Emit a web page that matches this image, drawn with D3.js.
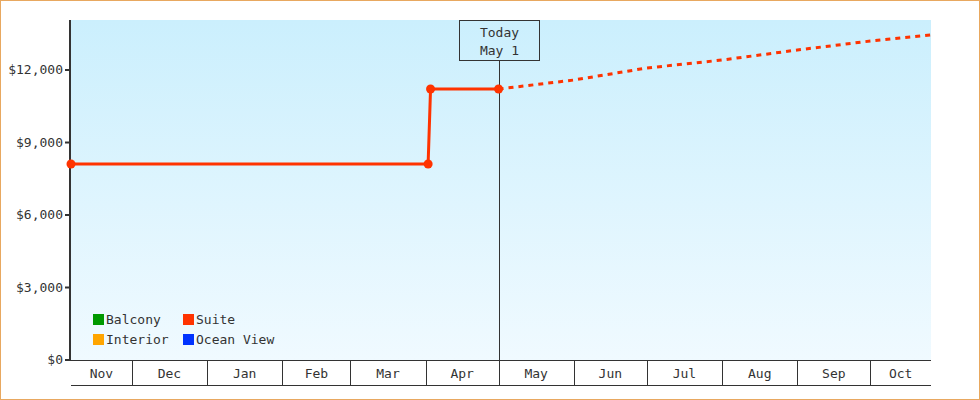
<!DOCTYPE html>
<html>
<head>
<meta charset="utf-8">
<script src="https://cdn.jsdelivr.net/npm/d3@7"></script>
<style>
  body { margin: 0; background: #fff; }
  svg text { font-family: "DejaVu Sans Mono", monospace; font-size: 13px; fill: #333; }
</style>
</head>
<body>
<div id="chart"></div>
<script>
var parseDate = d3.timeParse("%Y-%m-%d");

// Suite price history (solid) and projection (dashed)
var historyDates = ["2022-11-06", "2023-04-02", "2023-04-03", "2023-05-01"];
var historyValues = [8110, 8110, 11214, 11214];
var forecastDates = ["2023-05-01", "2023-06-01", "2023-07-01", "2023-08-01", "2023-09-01", "2023-10-01", "2023-10-26"];
var forecastValues = [11214, 11586, 12083, 12414, 12828, 13200, 13448];

var yTicks = [0, 3000, 6000, 9000, 12000];
var legendNames = ["Balcony", "Interior", "Suite", "Ocean View"];
var legendColors = ["#009900", "#ffa500", "#ff3300", "#0033ff"];
var todayDate = "2023-05-01";
var todayLabel = ["Today", "May 1"];

var width = 980, height = 400;
var margin = { left: 71, right: 49, top: 20, bottom: 40 };

var svg = d3.select("#chart").append("svg")
    .attr("width", width)
    .attr("height", height);

svg.append("rect")
    .attr("x", 0.5).attr("y", 0.5)
    .attr("width", width - 1).attr("height", height - 1)
    .attr("fill", "#fff")
    .attr("stroke", "#e8a860");

var x = d3.scaleTime()
    .domain([parseDate("2022-11-06"), parseDate("2023-10-26")])
    .range([margin.left, width - margin.right]);

var y = d3.scaleLinear()
    .domain([0, 14070])
    .range([height - margin.bottom, margin.top]);

var defs = svg.append("defs");
var grad = defs.append("linearGradient")
    .attr("id", "bg").attr("x1", 0).attr("y1", 0).attr("x2", 0).attr("y2", 1);
grad.append("stop").attr("offset", "0%").attr("stop-color", "#cbeffd");
grad.append("stop").attr("offset", "100%").attr("stop-color", "#f0faff");

svg.append("rect")
    .attr("x", x.range()[0]).attr("y", y.range()[1])
    .attr("width", x.range()[1] - x.range()[0])
    .attr("height", y.range()[0] - y.range()[1])
    .attr("fill", "url(#bg)");

// x axis: month boxes
var x0 = x.range()[0], x1 = x.range()[1];
var axisY = y(0), axisBottom = axisY + 25;
var monthStarts = d3.timeMonth.range(d3.timeMonth.floor(x.domain()[0]), x.domain()[1]);
var bounds = monthStarts.map(function(d, i) {
  var s = i == 0 ? x.domain()[0] : d;
  var e = i == monthStarts.length - 1 ? x.domain()[1] : monthStarts[i + 1];
  return { start: s, end: e, month: d };
});

var xg = svg.append("g");
xg.append("line")
    .attr("x1", x0).attr("x2", x1)
    .attr("y1", axisBottom + 0.5).attr("y2", axisBottom + 0.5)
    .attr("stroke", "#333");
xg.append("line")
    .attr("x1", x0 - 1).attr("x2", x1)
    .attr("y1", axisY + 0.5).attr("y2", axisY + 0.5)
    .attr("stroke", "#333");
xg.selectAll(".div")
    .data(bounds.slice(1))
    .enter().append("line")
      .attr("x1", function(d) { return Math.round(x(d.start)) + 0.5; })
      .attr("x2", function(d) { return Math.round(x(d.start)) + 0.5; })
      .attr("y1", axisY).attr("y2", axisBottom)
      .attr("stroke", "#333");
xg.selectAll(".mlabel")
    .data(bounds)
    .enter().append("text")
      .attr("x", function(d) { return (x(d.start) + x(d.end)) / 2; })
      .attr("y", axisY + 18)
      .attr("text-anchor", "middle")
      .text(function(d) { return d3.timeFormat("%b")(d.month); });

// y axis
var yg = svg.append("g");
yg.append("line")
    .attr("x1", x0 - 1).attr("x2", x0 - 1)
    .attr("y1", y.range()[1]).attr("y2", axisY + 1)
    .attr("stroke", "#333").attr("stroke-width", 2);
yg.selectAll(".tick")
    .data(yTicks)
    .enter().append("line")
      .attr("x1", x0 - 6).attr("x2", x0 - 1)
      .attr("y1", function(d) { return y(d); })
      .attr("y2", function(d) { return y(d); })
      .attr("stroke", "#333").attr("stroke-width", 2);
yg.selectAll(".ylabel")
    .data(yTicks)
    .enter().append("text")
      .attr("x", x0 - 8)
      .attr("y", function(d) { return y(d) + 4; })
      .attr("text-anchor", "end")
      .text(function(d) { return "$" + d3.format(",")(d); });

// today marker
var tx = Math.round(x(parseDate(todayDate))) + 0.5;
svg.append("line")
    .attr("x1", tx).attr("x2", tx)
    .attr("y1", 60).attr("y2", axisY)
    .attr("stroke", "#333");
svg.append("rect")
    .attr("x", tx - 40).attr("y", 20.5)
    .attr("width", 80).attr("height", 40)
    .attr("fill", "none").attr("stroke", "#333");
svg.selectAll(".today")
    .data(todayLabel)
    .enter().append("text")
      .attr("x", tx)
      .attr("y", function(d, i) { return 37 + i * 18; })
      .attr("text-anchor", "middle")
      .text(function(d) { return d; });

// suite lines
var line = d3.line()
    .x(function(d) { return x(d.date); })
    .y(function(d) { return y(d.value); });

var hist = historyDates.map(function(d, i) { return { date: parseDate(d), value: historyValues[i] }; });
var fc = forecastDates.map(function(d, i) { return { date: parseDate(d), value: forecastValues[i] }; });

svg.append("path")
    .datum(fc)
    .attr("d", line)
    .attr("fill", "none")
    .attr("stroke", "#ff3300")
    .attr("stroke-width", 3)
    .attr("stroke-dasharray", "5,5");

svg.append("path")
    .datum(hist)
    .attr("d", line)
    .attr("fill", "none")
    .attr("stroke", "#ff3300")
    .attr("stroke-width", 3);

svg.selectAll(".dot")
    .data(hist)
    .enter().append("circle")
      .attr("cx", function(d) { return x(d.date); })
      .attr("cy", function(d) { return y(d.value); })
      .attr("r", 4.5)
      .attr("fill", "#ff3300");

// legend
var legend = svg.selectAll(".legend")
    .data(legendNames)
    .enter().append("g")
      .attr("transform", function(d, i) {
        return "translate(" + (93 + Math.floor(i / 2) * 90) + "," + (314 + (i % 2) * 20) + ")";
      });
legend.append("rect")
    .attr("width", 11).attr("height", 11)
    .attr("fill", function(d, i) { return legendColors[i]; });
legend.append("text")
    .attr("x", 13).attr("y", 10)
    .text(function(d) { return d; });
</script>
</body>
</html>
